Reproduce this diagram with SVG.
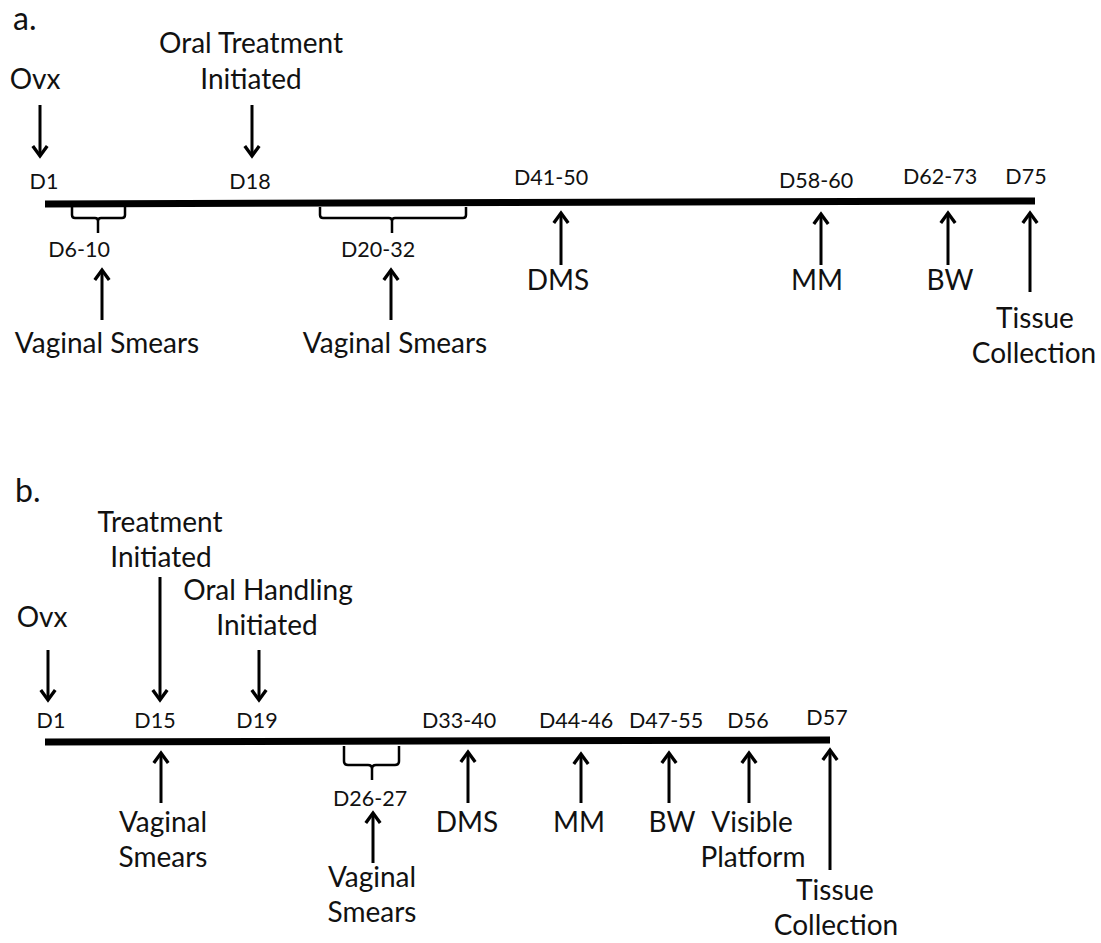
<svg xmlns="http://www.w3.org/2000/svg" width="1101" height="943" viewBox="0 0 1101 943">
<style>
text{font-family:Lato,"Open Sans","Liberation Sans",sans-serif;fill:#111;text-anchor:middle}
.lbl{font-size:28px}
.day{font-size:21.5px}
.panel{font-size:32px;text-anchor:start}
.tl{stroke:#000;stroke-width:7;fill:none}
.arr{stroke:#000;stroke-width:3;fill:none;marker-end:url(#ah)}
.br{stroke:#000;stroke-width:2.5;fill:none;stroke-linejoin:round}
</style>
<defs>
<marker id="ah" markerUnits="userSpaceOnUse" markerWidth="20" markerHeight="20" refX="0" refY="0" viewBox="-12 -9 14 18" orient="auto" overflow="visible">
<path d="M-9,-6.5 L0,0 L-9,6.5" stroke="#000" stroke-width="3" fill="none" stroke-linejoin="miter"/>
</marker>
</defs>
<rect width="1101" height="943" fill="#fff"/>

<g id="panel-a">
<text class="panel" x="13" y="30">a.</text>
<g id="a-timeline"><line class="tl" x1="45" y1="204" x2="1035" y2="201"/></g>
<g id="a-ovx"><text class="lbl" x="35" y="89">Ovx</text><text class="day" x="44" y="189">D1</text></g>
<g id="a-oral"><text class="lbl" x="251" y="53">Oral Treatment</text><text class="lbl" x="251" y="89">Initiated</text><text class="day" x="250" y="189">D18</text></g>
<g id="a-vs1"><text class="day" x="79" y="257">D6-10</text><text class="lbl" x="107" y="353">Vaginal Smears</text></g>
<g id="a-vs2"><text class="day" x="378" y="257">D20-32</text><text class="lbl" x="395" y="353">Vaginal Smears</text></g>
<g id="a-dms"><text class="day" x="551" y="185">D41-50</text><text class="lbl" x="558" y="290">DMS</text></g>
<g id="a-mm"><text class="day" x="816" y="188">D58-60</text><text class="lbl" x="817" y="290">MM</text></g>
<g id="a-bw"><text class="day" x="940" y="184">D62-73</text><text class="lbl" x="950" y="290">BW</text></g>
<g id="a-tc"><text class="day" x="1026" y="184">D75</text><text class="lbl" x="1035" y="328">Tissue</text><text class="lbl" x="1034" y="363">Collection</text></g>
</g>

<g id="panel-b">
<text class="panel" x="15" y="502">b.</text>
<g id="b-timeline"><line class="tl" x1="45" y1="742" x2="830" y2="740"/></g>
<g id="b-ovx"><text class="lbl" x="42" y="627">Ovx</text><text class="day" x="51" y="728">D1</text></g>
<g id="b-treat"><text class="lbl" x="160" y="532">Treatment</text><text class="lbl" x="161" y="567">Initiated</text><text class="day" x="155" y="728">D15</text></g>
<g id="b-oral"><text class="lbl" x="268" y="600">Oral Handling</text><text class="lbl" x="267" y="635">Initiated</text><text class="day" x="257" y="728">D19</text></g>
<g id="b-vs1"><text class="lbl" x="163" y="832">Vaginal</text><text class="lbl" x="163" y="867">Smears</text></g>
<g id="b-vs2"><text class="day" x="370" y="806">D26-27</text><text class="lbl" x="372" y="887">Vaginal</text><text class="lbl" x="372" y="922">Smears</text></g>
<g id="b-dms"><text class="day" x="459" y="728">D33-40</text><text class="lbl" x="467" y="832">DMS</text></g>
<g id="b-mm"><text class="day" x="576" y="728">D44-46</text><text class="lbl" x="579" y="832">MM</text></g>
<g id="b-bw"><text class="day" x="666" y="728">D47-55</text><text class="lbl" x="672" y="832">BW</text></g>
<g id="b-vp"><text class="day" x="748" y="728">D56</text><text class="lbl" x="752" y="832">Visible</text><text class="lbl" x="753" y="867">Platform</text></g>
<g id="b-tc"><text class="day" x="827" y="725">D57</text><text class="lbl" x="835" y="900">Tissue</text><text class="lbl" x="836" y="935">Collection</text></g>
</g>

<g id="connectors">
<line class="arr" x1="40" y1="105" x2="40" y2="156"/>
<line class="arr" x1="252" y1="105" x2="252" y2="156"/>
<path class="br" d="M72,207 V215 Q72,218 75,218 H95 Q98,218 98,221 V233 M98,221 Q98,218 101,218 H122 Q125,218 125,215 V207"/>
<path class="br" d="M320,207 V215 Q320,218 323,218 H389 Q392,218 392,221 V233 M392,221 Q392,218 395,218 H463 Q466,218 466,215 V207"/>
<line class="arr" x1="102" y1="320" x2="102" y2="270"/>
<line class="arr" x1="391" y1="320" x2="391" y2="270"/>
<line class="arr" x1="561" y1="265" x2="561" y2="213"/>
<line class="arr" x1="821" y1="265" x2="821" y2="214"/>
<line class="arr" x1="948" y1="265" x2="948" y2="213"/>
<line class="arr" x1="1030" y1="292" x2="1030" y2="213"/>

<line class="arr" x1="48" y1="650" x2="48" y2="700"/>
<line class="arr" x1="160" y1="577" x2="160" y2="700"/>
<line class="arr" x1="259" y1="650" x2="259" y2="700"/>
<line class="arr" x1="161" y1="803" x2="161" y2="753"/>
<path class="br" d="M344,746 V761 Q344,765 348,765 H368 Q372,765 372,769 V780 M372,769 Q372,765 376,765 H395 Q399,765 399,761 V746"/>
<line class="arr" x1="373" y1="863" x2="373" y2="813"/>
<line class="arr" x1="468" y1="803" x2="468" y2="752"/>
<line class="arr" x1="581" y1="803" x2="581" y2="754"/>
<line class="arr" x1="669" y1="803" x2="669" y2="753"/>
<line class="arr" x1="749" y1="803" x2="749" y2="753"/>
<line class="arr" x1="830" y1="870" x2="830" y2="750"/>
</g>
</svg>
